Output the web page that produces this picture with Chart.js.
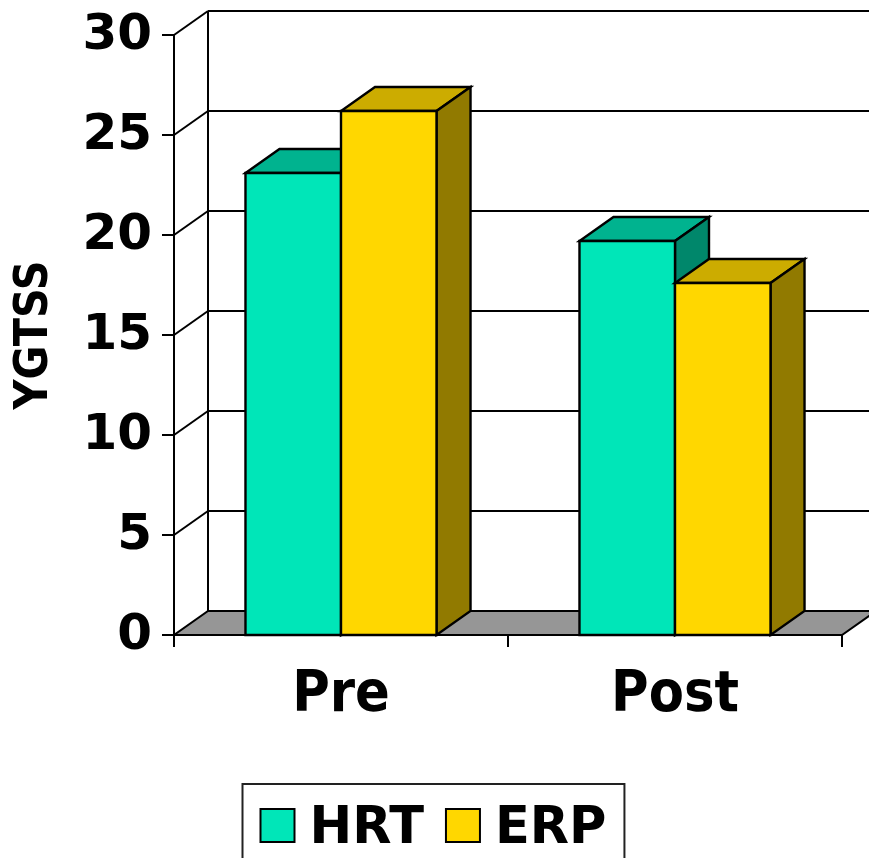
<!DOCTYPE html>
<html>
<head>
<meta charset="utf-8">
<script src="https://cdn.jsdelivr.net/npm/chart.js@4.4.1/dist/chart.umd.min.js"></script>
<style>
  html, body { margin: 0; padding: 0; background: #ffffff; overflow: hidden; }
  #wrap { width: 869px; height: 858px; }
</style>
</head>
<body>
<div id="wrap"><canvas id="c" width="869" height="858"></canvas></div>
<script>
// Chart data
const categories = ['Pre', 'Post'];
const seriesNames = ['HRT', 'ERP'];
const hrtValues = [23.1, 19.7];
const erpValues = [26.2, 17.6];
const yTicks = [0, 5, 10, 15, 20, 25, 30];
const axisTitle = 'YGTSS';

// Styling
const FONT_NARROW = "'DejaVu Sans Condensed', 'DejaVu Sans', sans-serif";
const FONT_WIDE = "'DejaVu Sans', 'Open Sans', sans-serif";
const DEPTH_X = 34;
const DEPTH_Y = -24;
const FLOOR_COLOR = '#969696';
const faceColors = [
  { front: '#00E6B8', top: '#00B38F', side: '#00876B' },
  { front: '#FFD700', top: '#CCAC00', side: '#917A00' }
];

function line(ctx, x1, y1, x2, y2) {
  ctx.beginPath();
  ctx.moveTo(x1, y1);
  ctx.lineTo(x2, y2);
  ctx.stroke();
}

function poly(ctx, pts, fill) {
  ctx.beginPath();
  ctx.moveTo(pts[0][0], pts[0][1]);
  for (let i = 1; i < pts.length; i++) ctx.lineTo(pts[i][0], pts[i][1]);
  ctx.closePath();
  ctx.fillStyle = fill;
  ctx.fill();
  ctx.stroke();
}

// Draws the walls, floor and 3D bar faces around the plot area
const depthPlugin = {
  id: 'depth3d',
  beforeDatasetsDraw(chart) {
    const { ctx, chartArea, scales } = chart;
    const { left, right, top, bottom } = chartArea;
    const y = scales.y, x = scales.x;
    ctx.save();
    ctx.lineWidth = 2;
    ctx.strokeStyle = '#000';
    ctx.lineJoin = 'miter';

    // floor
    poly(ctx, [[left, bottom], [right, bottom], [right + DEPTH_X, bottom + DEPTH_Y], [left + DEPTH_X, bottom + DEPTH_Y]], FLOOR_COLOR);

    // back wall gridlines, side wall diagonals and tick marks
    y.ticks.forEach(t => {
      const py = y.getPixelForValue(t.value);
      if (t.value !== 0) {
        line(ctx, left + DEPTH_X, py + DEPTH_Y, chart.width, py + DEPTH_Y);
        line(ctx, left, py, left + DEPTH_X, py + DEPTH_Y);
      }
      line(ctx, left - 12, py, left, py);
    });

    // back wall vertical edge and front value axis
    line(ctx, left + DEPTH_X, top + DEPTH_Y, left + DEPTH_X, bottom + DEPTH_Y);
    line(ctx, left, top, left, bottom);

    // category boundary ticks
    const bounds = [x.left];
    for (let i = 0; i < categories.length - 1; i++) bounds.push(x.getPixelForValue(i + 0.5));
    bounds.push(x.right);
    bounds.forEach(bx => line(ctx, bx, bottom, bx, bottom + 12));
    ctx.restore();
  },
  afterDatasetsDraw(chart) {
    const { ctx } = chart;
    ctx.save();
    ctx.lineWidth = 2.4;
    ctx.strokeStyle = '#000';
    ctx.lineJoin = 'miter';
    for (let i = 0; i < categories.length; i++) {
      chart.data.datasets.forEach((ds, d) => {
        const el = chart.getDatasetMeta(d).data[i];
        const p = el.getProps(['x', 'y', 'base', 'width'], true);
        const l = p.x - p.width / 2, r = p.x + p.width / 2;
        const t = p.y, b = p.base;
        const c = faceColors[d];
        poly(ctx, [[l, t], [r, t], [r + DEPTH_X, t + DEPTH_Y], [l + DEPTH_X, t + DEPTH_Y]], c.top);
        poly(ctx, [[r, t], [r + DEPTH_X, t + DEPTH_Y], [r + DEPTH_X, b + DEPTH_Y], [r, b]], c.side);
        poly(ctx, [[l, t], [r, t], [r, b], [l, b]], c.front);
      });
    }
    ctx.restore();
  },
  afterDraw(chart) {
    // boxed legend below the axis
    const { ctx } = chart;
    ctx.save();
    ctx.font = 'bold 51px ' + FONT_WIDE;
    const items = chart.data.datasets.map(ds => ({
      text: ds.label, color: ds.backgroundColor, w: ctx.measureText(ds.label).width
    }));
    const pad = 18, box = 34, gapText = 15, gapItem = 22;
    let total = pad * 2 + gapItem * (items.length - 1);
    items.forEach(it => { total += box + gapText + it.w; });
    const bx = Math.round(chart.width / 2 - 2 - total / 2) + 0.5;
    const by = 784;
    ctx.lineWidth = 2;
    ctx.strokeStyle = '#222';
    ctx.strokeRect(bx, by, total, 120);
    let cx = bx + pad;
    ctx.strokeStyle = '#000';
    ctx.textBaseline = 'alphabetic';
    ctx.textAlign = 'left';
    items.forEach(it => {
      ctx.fillStyle = it.color;
      ctx.fillRect(cx, 809, box, 33);
      ctx.strokeRect(cx, 809, box, 33);
      ctx.fillStyle = '#000';
      ctx.fillText(it.text, cx + box + gapText, 843);
      cx += box + gapText + it.w + gapItem;
    });
    ctx.restore();
  }
};

new Chart(document.getElementById('c'), {
  type: 'bar',
  data: {
    labels: categories,
    datasets: [
      { label: seriesNames[0], data: hrtValues, backgroundColor: faceColors[0].front, borderWidth: 0 },
      { label: seriesNames[1], data: erpValues, backgroundColor: faceColors[1].front, borderWidth: 0 }
    ]
  },
  options: {
    responsive: false,
    animation: false,
    devicePixelRatio: 1,
    layout: { padding: { top: 35, right: 27, bottom: 123, left: 0 } },
    datasets: { bar: { categoryPercentage: 0.572, barPercentage: 1 } },
    plugins: { legend: { display: false }, tooltip: { enabled: false } },
    scales: {
      x: {
        grid: { display: false },
        border: { display: false },
        ticks: {
          color: '#000', maxRotation: 0, padding: 25,
          font: { family: FONT_NARROW, size: 57, weight: 'bold', lineHeight: 1 }
        },
        afterFit(s) { s.height = 100; s.paddingLeft = 0; s.paddingRight = 0; }
      },
      y: {
        min: 0, max: 30,
        grid: { display: false },
        border: { display: false },
        afterBuildTicks(s) { s.ticks = yTicks.map(v => ({ value: v })); },
        ticks: {
          color: '#000', padding: 14, labelOffset: 1,
          font: { family: FONT_WIDE, size: 50, weight: 'bold', lineHeight: 1 }
        },
        title: {
          display: true, text: axisTitle, color: '#000',
          padding: { top: 12, bottom: 0 },
          font: { family: FONT_NARROW, size: 46, weight: 'bold', lineHeight: 1 }
        },
        afterFit(s) { s.width = 174; s.paddingTop = 0; s.paddingBottom = 0; }
      }
    }
  },
  plugins: [depthPlugin]
});
</script>
</body>
</html>
